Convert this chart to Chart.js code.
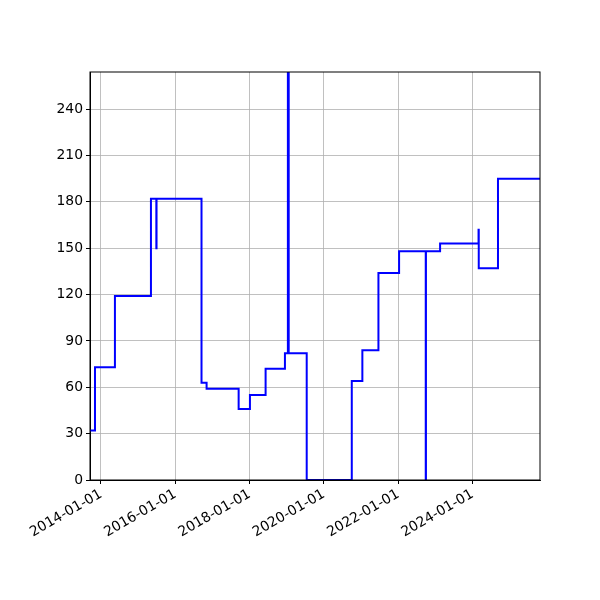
<!DOCTYPE html>
<html>
<head>
<meta charset="utf-8">
<script src="https://cdn.jsdelivr.net/npm/chart.js@4/dist/chart.umd.min.js"></script>
<style>
    html, body { margin: 0; padding: 0; background: #fff; }
    #wrap { width: 600px; height: 600px; }
</style>
</head>
<body>
<div id="wrap"><canvas id="stepChart" width="600" height="600"></canvas></div>
<script>
// Fechas de cambio y valores (escalonado: el valor se mantiene hasta la siguiente fecha)
const changeDates = [
    '2013-09-15', '2013-11-03', '2014-05-18', '2015-05-07', '2015-06-29', '2015-07-01',
    '2016-09-15', '2016-11-04', '2017-09-15', '2018-01-04', '2018-06-07', '2018-12-14',
    '2019-01-12', '2019-01-20', '2019-07-16', '2020-10-01', '2021-01-13', '2021-06-20',
    '2022-01-09', '2022-09-28', '2022-09-30', '2023-02-16', '2024-02-29', '2024-03-02',
    '2024-09-07', '2025-10-25'
];
const changeValues = [
    32, 73, 119, 182, 150, 182,
    63, 59, 46, 55, 72, 82,
    264, 82, 0, 64, 84, 134,
    148, 0, 148, 153, 162, 137,
    195, 195
];

// Ejes
const xMinDate = '2013-09-15';
const xMaxDate = '2025-10-25';
const xTickLabels = ['2014-01-01', '2016-01-01', '2018-01-01', '2020-01-01', '2022-01-01', '2024-01-01'];
const yTicks = [0, 30, 60, 90, 120, 150, 180, 210, 240];
const yMax = 264;

const points = changeDates.map((d, i) => ({ x: Date.parse(d), y: changeValues[i] }));

// Marco negro alrededor del área del gráfico
const frameBox = {
    id: 'frameBox',
    afterDraw(chart) {
        const { ctx, chartArea } = chart;
        ctx.save();
        ctx.strokeStyle = '#000';
        ctx.lineWidth = 1;
        ctx.strokeRect(chartArea.left, chartArea.top, chartArea.right - chartArea.left, chartArea.bottom - chartArea.top);
        ctx.restore();
    }
};

Chart.defaults.font.family = '"DejaVu Sans", sans-serif';
Chart.defaults.font.size = 13.9;
Chart.defaults.color = '#000';

new Chart(document.getElementById('stepChart'), {
    type: 'line',
    data: {
        datasets: [{
            data: points,
            borderColor: '#0000ff',
            borderWidth: 2,
            pointRadius: 0,
            stepped: 'before',
            fill: false
        }]
    },
    options: {
        responsive: false,
        animation: false,
        devicePixelRatio: 1,
        layout: { padding: { top: 72, right: 60, left: 0, bottom: 0 } },
        plugins: {
            legend: { display: false },
            tooltip: { enabled: false }
        },
        scales: {
            x: {
                type: 'linear',
                min: Date.parse(xMinDate),
                max: Date.parse(xMaxDate),
                afterBuildTicks(scale) {
                    scale.ticks = xTickLabels.map(t => ({ value: Date.parse(t) }));
                },
                afterFit(scale) { scale.height = 120; },
                ticks: {
                    minRotation: 30,
                    maxRotation: 30,
                    padding: 2,
                    callback(value) {
                        return new Date(value).toISOString().slice(0, 10);
                    }
                },
                grid: {
                    color: '#b0b0b0',
                    lineWidth: 0.8,
                    drawTicks: true,
                    tickLength: 4,
                    tickColor: '#000',
                    tickWidth: 1
                },
                border: { display: true, color: '#000', width: 1 }
            },
            y: {
                type: 'linear',
                min: 0,
                max: yMax,
                afterBuildTicks(scale) {
                    scale.ticks = yTicks.map(v => ({ value: v }));
                },
                afterFit(scale) { scale.width = 90; },
                ticks: { padding: 3 },
                grid: {
                    color: '#b0b0b0',
                    lineWidth: 0.8,
                    drawTicks: true,
                    tickLength: 4,
                    tickColor: '#000',
                    tickWidth: 1
                },
                border: { display: true, color: '#000', width: 1 }
            }
        }
    },
    plugins: [frameBox]
});
</script>
</body>
</html>
